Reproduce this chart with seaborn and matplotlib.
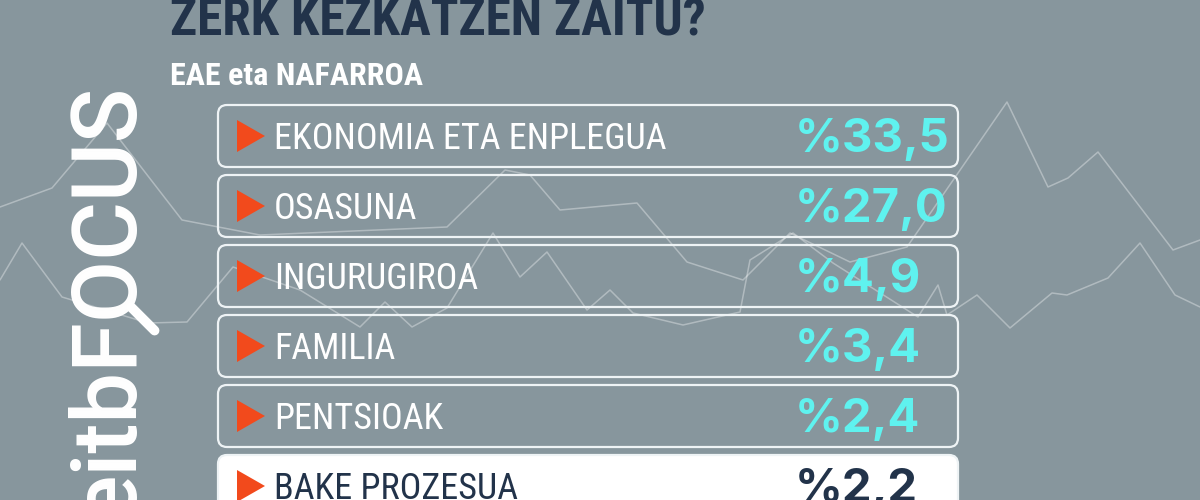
import numpy as np
import pandas as pd
import matplotlib
matplotlib.use("Agg")
from matplotlib import pyplot as plt
from matplotlib.patches import FancyBboxPatch, Polygon
import seaborn as sns

# chart content
title = "ZERK KEZKATZEN ZAITU?"
subtitle = "EAE eta NAFARROA"
categories = ["EKONOMIA ETA ENPLEGUA", "OSASUNA", "INGURUGIROA",
              "FAMILIA", "PENTSIOAK", "BAKE PROZESUA"]
values = [33.5, 27.0, 4.9, 3.4, 2.4, 2.2]
highlight = "BAKE PROZESUA"
logo = "eitbFOCUS"

# decorative background network lines (pixel positions)
bg_a_x = [0, 52, 107, 182, 260, 447, 505, 530, 560, 637, 687, 743, 790, 850,
          907, 1007, 1048, 1068, 1098, 1173, 1200]
bg_a_y = [207, 188, 123, 220, 235, 227, 170, 175, 210, 203, 262, 280, 233, 262,
          247, 102, 187, 178, 152, 250, 240]
bg_b_x = [0, 22, 62, 148, 187, 233, 300, 360, 385, 412, 447, 493, 520, 547, 587,
          610, 633, 683, 740, 750, 793, 833, 918, 938, 947, 977, 1010, 1052,
          1067, 1108, 1140, 1175, 1200]
bg_b_y = [280, 243, 297, 323, 322, 267, 290, 327, 302, 327, 308, 233, 277, 252,
          310, 290, 313, 325, 312, 260, 233, 263, 317, 285, 315, 295, 328, 293,
          295, 278, 243, 295, 307]

bg = "#87969d"
navy = "#22334a"
cyan = "#5ff2ef"
orange = "#f24a1c"

sns.set_theme(style="white")
narrow = ["Liberation Sans Narrow", "Roboto Condensed", "Liberation Sans", "DejaVu Sans"]
heavy = ["Inter", "Open Sans", "DejaVu Sans"]
plt.rcParams["font.family"] = ["Roboto", "DejaVu Sans"]

fig = plt.figure(figsize=(12, 5), dpi=100)
fig.patch.set_facecolor(bg)
ax = fig.add_axes([0, 0, 1, 1])
ax.set_facecolor(bg)

# background lines
lines = pd.concat([
    pd.DataFrame({"x": bg_a_x, "y": bg_a_y, "line": "a"}),
    pd.DataFrame({"x": bg_b_x, "y": bg_b_y, "line": "b"}),
])
sns.lineplot(data=lines, x="x", y="y", units="line", estimator=None, sort=False,
             color="white", alpha=0.35, linewidth=1.1, ax=ax, legend=False)
ax.set_xlim(0, 1200)
ax.set_ylim(500, 0)
ax.axis("off")

# title + subtitle
ax.text(170, 35, title, color=navy, fontsize=37, fontweight="bold",
        family=narrow, va="baseline", ha="left")
ax.text(170, 85, subtitle, color="white", fontsize=23, fontweight="bold",
        family=narrow, va="baseline", ha="left")

# logo, reading bottom to top; the O gets a magnifier handle
logo_kw = dict(color="white", fontsize=65, fontweight="medium", rotation=90,
               ha="left", va="baseline", rotation_mode="anchor",
               family=["Roboto", "DejaVu Sans"])
ax.text(133, 520, logo, **logo_kw)
fig.canvas.draw()
rend = fig.canvas.get_renderer()
pre = ax.text(133, 520, logo[:5], alpha=0, **logo_kw)
pre_o = ax.text(133, 520, logo[:6], alpha=0, **logo_kw)
b1 = pre.get_window_extent(rend)
b2 = pre_o.get_window_extent(rend)
inv = ax.transData.inverted()
cx, cy = inv.transform(((b2.x0 + b2.x1) / 2 + 3, (b1.y1 + b2.y1) / 2))
rad = (b2.y1 - b1.y1) / 2
ax.plot([cx + rad * 0.65, cx + rad * 1.4], [cy + rad * 0.65, cy + rad * 1.4],
        color="white", linewidth=7, solid_capstyle="round")

# rows
row_h = 62
step = 70
top0 = 105
x0, x1 = 218, 958
for i, (cat, val) in enumerate(zip(categories, values)):
    top = top0 + i * step
    mid = top + row_h / 2
    is_hi = cat == highlight
    box = FancyBboxPatch((x0, top), x1 - x0, row_h,
                         boxstyle="round,pad=0,rounding_size=9",
                         facecolor="white" if is_hi else "none",
                         edgecolor="#eef3f5", linewidth=1.6, zorder=3)
    ax.add_patch(box)
    tri = Polygon([(237, mid - 16), (237, mid + 16), (265, mid)],
                  closed=True, facecolor=orange, edgecolor="none", zorder=4)
    ax.add_patch(tri)
    ax.text(274, mid + 13, cat, color=navy if is_hi else "white", fontsize=26,
            family=narrow, va="baseline", ha="left", zorder=5)
    label = "%" + f"{val:.1f}".replace(".", ",")
    ax.text(795, mid + 16, label, color=navy if is_hi else cyan, fontsize=34,
            fontweight="bold", family=heavy,
            va="baseline", ha="left", zorder=5)

fig.savefig("out.png", dpi=100, facecolor=bg)
